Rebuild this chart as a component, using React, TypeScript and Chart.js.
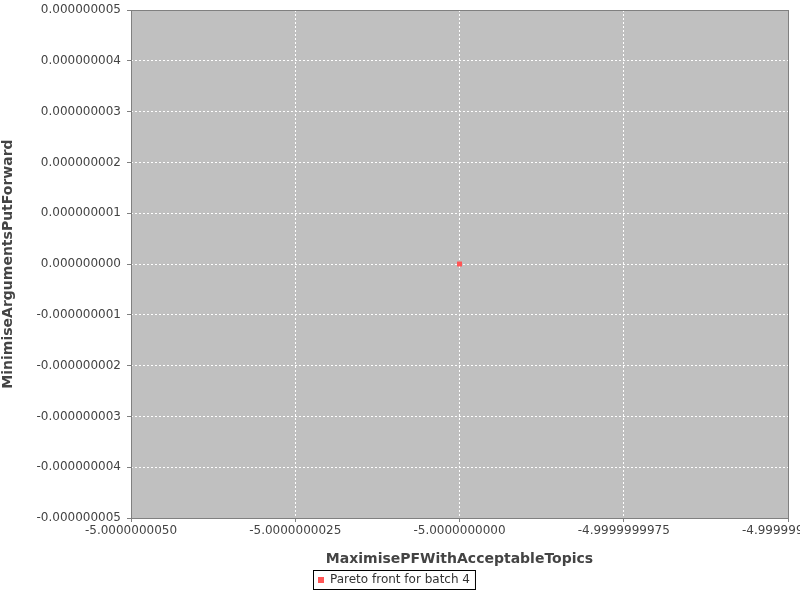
import React, { useEffect, useRef } from "react";
import { Chart, registerables } from "chart.js";
Chart.register(...registerables);

const seriesLabel = "Pareto front for batch 4";
const xValues = [-5.0];
const yValues = [0.0];
const xTicks = [-5.000000005, -5.0000000025, -5.0, -4.9999999975, -4.999999995];
const yTicks = [-5e-9, -4e-9, -3e-9, -2e-9, -1e-9, 0, 1e-9, 2e-9, 3e-9, 4e-9, 5e-9];
const xTitle = "MaximisePFWithAcceptableTopics";
const yTitle = "MinimiseArgumentsPutForward";

const bgPlugin = {
  id: "bg",
  beforeDraw(chart: any) {
    const { ctx, chartArea: a } = chart;
    ctx.save();
    ctx.fillStyle = "#c0c0c0";
    ctx.fillRect(a.left, a.top, a.right - a.left, a.bottom - a.top);
    ctx.restore();
  },
  afterDraw(chart: any) {
    const { ctx, chartArea: a } = chart;
    ctx.save();
    ctx.strokeStyle = "#808080";
    ctx.lineWidth = 1;
    ctx.strokeRect(a.left + 0.5, a.top + 0.5, a.right - a.left, a.bottom - a.top);
    const lg = chart.legend;
    if (lg && lg.legendHitBoxes && lg.legendHitBoxes.length) {
      const h = lg.legendHitBoxes[0];
      ctx.strokeStyle = "#000";
      ctx.strokeRect(Math.round(h.left) - 4.5, Math.round(h.top) - 3.5, h.width + 10, h.height + 7);
    }
    ctx.restore();
  },
};

export default function App() {
  const ref = useRef<HTMLCanvasElement>(null);
  useEffect(() => {
    document.body.style.margin = "0";
    const font = { family: "DejaVu Sans", size: 12 };
    const chart = new Chart(ref.current!, {
      type: "scatter",
      data: {
        datasets: [
          {
            label: seriesLabel,
            data: xValues.map((x, i) => ({ x, y: yValues[i] })),
            backgroundColor: "#ff5555",
            borderColor: "#ff5555",
            pointStyle: "rect",
            pointRadius: 3.5,
            borderWidth: 0,
          },
        ],
      },
      options: {
        animation: false,
        responsive: false,
        layout: { padding: { left: 0, right: 12, top: 10, bottom: 4 } },
        plugins: {
          tooltip: { enabled: false },
          legend: {
            position: "bottom",
            labels: {
              font,
              color: "#333",
              boxWidth: 6,
              boxHeight: 6,
              usePointStyle: true,
              pointStyle: "rect",
              padding: 6,
            },
          },
        },
        scales: {
          x: {
            type: "linear",
            min: xTicks[0],
            max: xTicks[xTicks.length - 1],
            afterBuildTicks: (s: any) => { s.ticks = xTicks.map((v) => ({ value: v })); },
            afterFit: (s: any) => { s.paddingLeft = 0; s.paddingRight = 0; s.height = 50; },
            ticks: { font, color: "#444", padding: 2, maxRotation: 0, callback: (v: any) => Number(v).toFixed(10) },
            grid: { color: "#ffffff", tickColor: "#808080", tickLength: 4 },
            border: { display: false, dash: [2, 2] },
            title: { display: true, text: xTitle, font: { family: "DejaVu Sans", size: 14, weight: "bold" }, color: "#444", padding: { top: 6, bottom: 0 } },
          },
          y: {
            type: "linear",
            min: yTicks[0],
            max: yTicks[yTicks.length - 1],
            afterBuildTicks: (s: any) => { s.ticks = yTicks.map((v) => ({ value: v })); },
            afterFit: (s: any) => { s.width = 131; s.paddingTop = 0; s.paddingBottom = 0; },
            ticks: { font, color: "#444", padding: 6, callback: (v: any) => Number(v).toFixed(9) },
            grid: { color: "#ffffff", tickColor: "#808080", tickLength: 4 },
            border: { display: false, dash: [2, 2] },
            title: { display: true, text: yTitle, font: { family: "DejaVu Sans", size: 14, weight: "bold" }, color: "#444", padding: { top: 0, bottom: 4 } },
          },
        },
      },
      plugins: [bgPlugin],
    } as any);
    return () => chart.destroy();
  }, []);
  return <canvas ref={ref} width={800} height={600} style={{ display: "block" }} />;
}
